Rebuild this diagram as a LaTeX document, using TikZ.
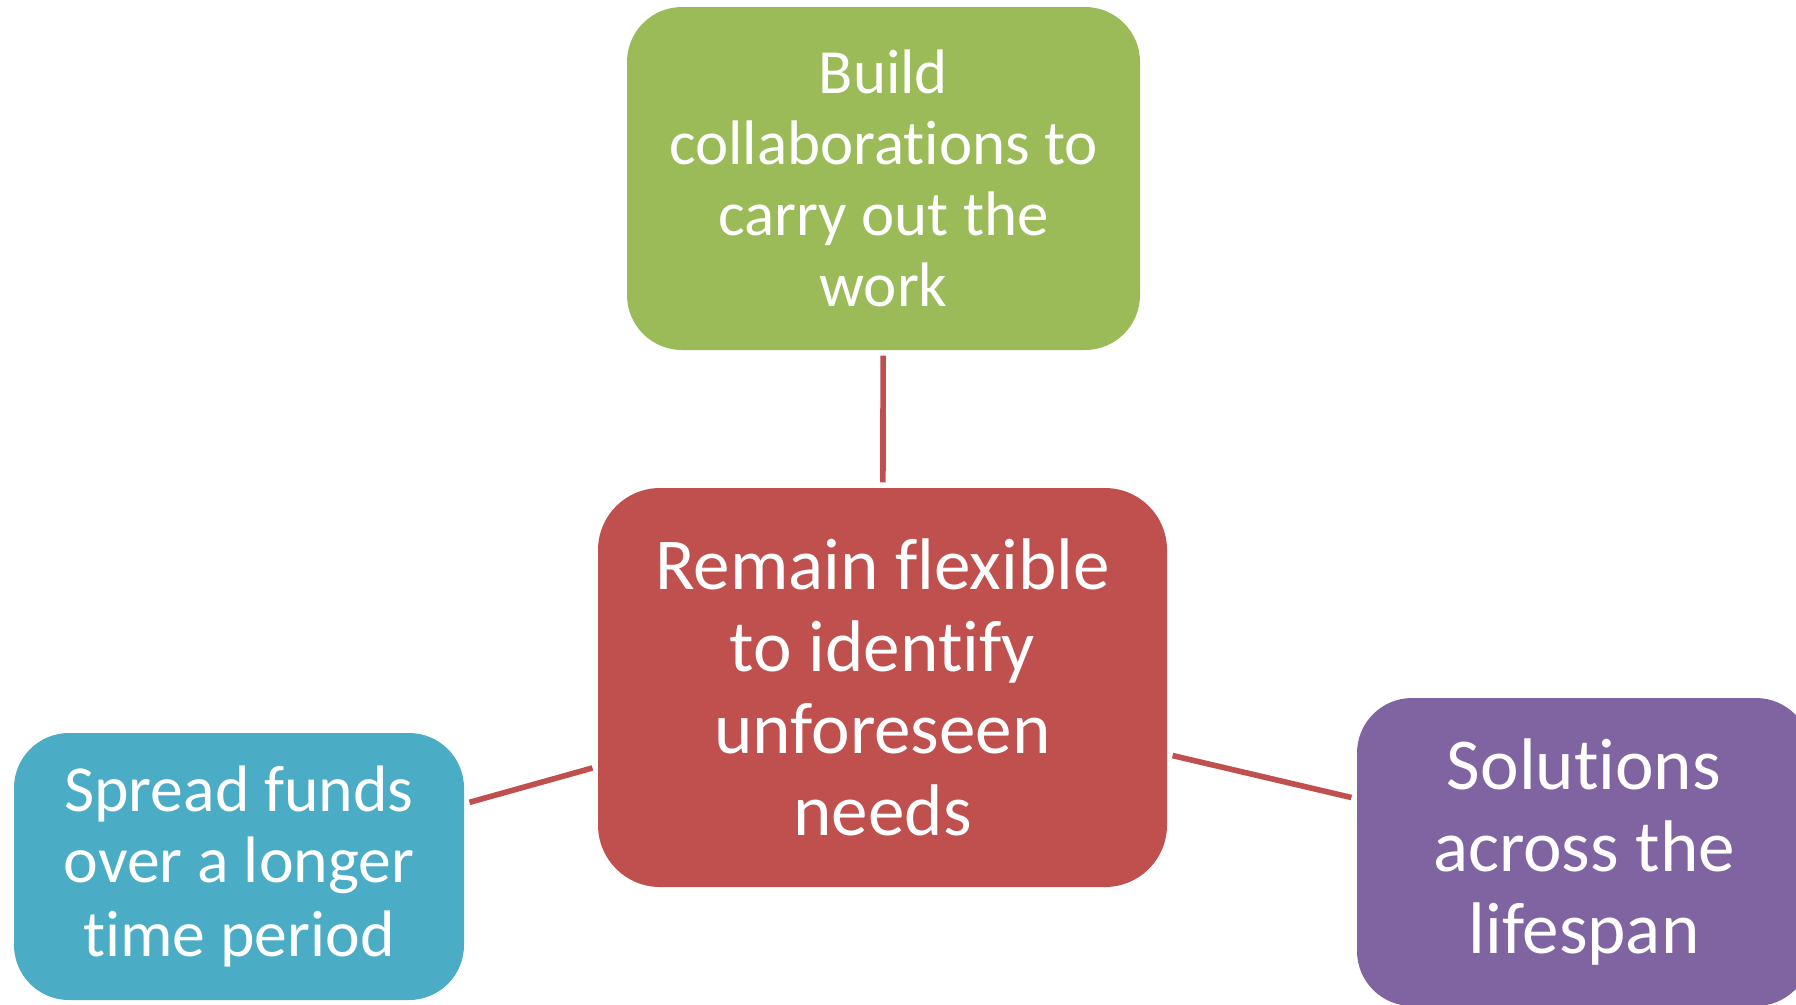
\documentclass[tikz,border=0pt]{standalone}
\usepackage{fontspec}
\setmainfont{Carlito}[Ligatures={NoCommon}]
\definecolor{leafgreen}{HTML}{9BBB59}
\definecolor{brickred}{HTML}{C0504D}
\definecolor{seablue}{HTML}{4BACC6}
\definecolor{plum}{HTML}{8064A2}
\tikzset{
  bubble/.style={rectangle, rounded corners=0.55cm, inner sep=0pt, align=center, text=white},
  link/.style={draw=brickred, line width=1.6pt, shorten <=0.05cm, shorten >=0.05cm}
}
\begin{document}
\begin{tikzpicture}
        \useasboundingbox (0,0) rectangle (17.96,-10.04);

        \node[bubble, fill=leafgreen, minimum width=5.13cm, minimum height=3.43cm,
              font=\fontsize{17.9}{20.2}\selectfont] (build) at (8.835,-1.785)
              {Build\\collaborations to\\carry out the\\work};
        \node[bubble, fill=brickred, rounded corners=0.62cm, minimum width=5.69cm, minimum height=3.99cm,
              font=\fontsize{20.8}{23.3}\selectfont] (flex) at (8.825,-6.875)
              {Remain flexible\\to identify\\unforeseen\\needs};
        \node[bubble, fill=seablue, minimum width=4.50cm, minimum height=2.67cm,
              font=\fontsize{18.7}{21.2}\selectfont] (funds) at (2.39,-8.665)
              {\raisebox{-1pt}{Spread funds}\\over a longer\\time period};
        \node[bubble, fill=plum, minimum width=4.54cm, minimum height=3.08cm,
              font=\fontsize{20.8}{23.2}\selectfont] (life) at (15.84,-8.52)
              {Solutions\\across the\\lifespan};

        \draw[link] (build) -- (flex);
        \draw[link] (funds) -- (flex);
        \draw[link] (flex) -- (life);
      \end{tikzpicture}
\end{document}
